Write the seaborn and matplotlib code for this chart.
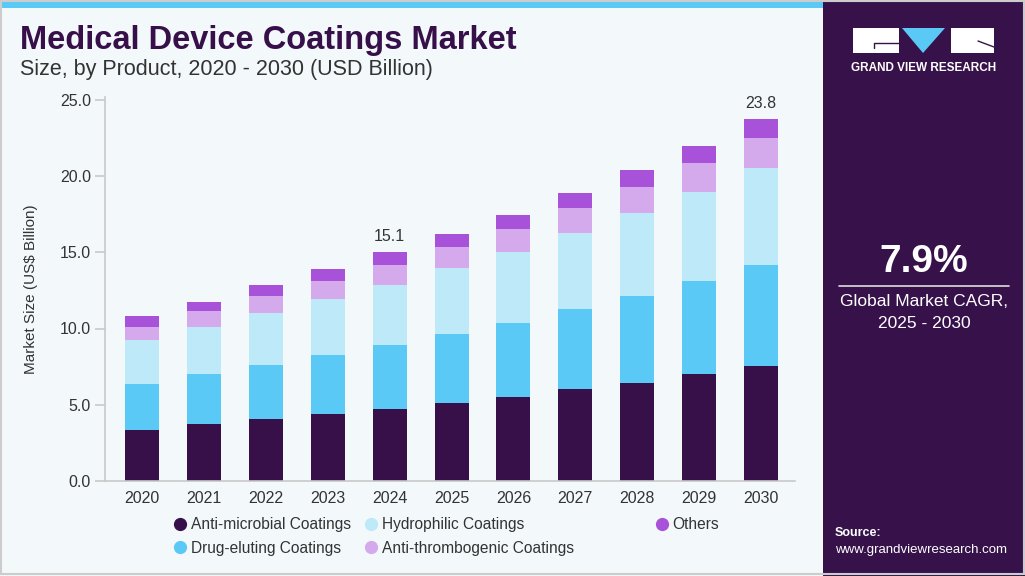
import numpy as np
import pandas as pd
import matplotlib
matplotlib.use("Agg")
import matplotlib.pyplot as plt
import seaborn as sns
from matplotlib.patches import Rectangle, Polygon
from matplotlib.lines import Line2D

# ---------------- data ----------------
years = ["2020", "2021", "2022", "2023", "2024", "2025", "2026", "2027", "2028", "2029", "2030"]
anti_microbial = [3.35, 3.74, 4.05, 4.40, 4.70, 5.14, 5.54, 6.02, 6.43, 7.00, 7.55]
drug_eluting = [3.04, 3.26, 3.54, 3.89, 4.20, 4.51, 4.85, 5.25, 5.71, 6.12, 6.62]
hydrophilic = [2.84, 3.09, 3.41, 3.63, 3.96, 4.29, 4.64, 4.98, 5.43, 5.84, 6.37]
anti_thrombogenic = [0.90, 1.05, 1.14, 1.18, 1.31, 1.39, 1.49, 1.62, 1.70, 1.87, 1.97]
others = [0.66, 0.63, 0.68, 0.77, 0.82, 0.84, 0.91, 1.01, 1.10, 1.11, 1.20]
series_names = ["Anti-microbial Coatings", "Drug-eluting Coatings", "Hydrophilic Coatings",
                "Anti-thrombogenic Coatings", "Others"]
series_colors = ["#37104A", "#5BC9F5", "#BDE9F8", "#D4AAEC", "#A752D8"]
value_labels = {"2024": "15.1", "2030": "23.8"}
y_ticks = [0, 5, 10, 15, 20, 25]

W, H = 1025, 576
BG = "#F3F8FB"
PANEL = "#37124A"
DARK = "#37104A"

sns.set_theme(style="white")
plt.rcParams["font.family"] = ["Liberation Sans", "DejaVu Sans"]

fig = plt.figure(figsize=(W / 100, H / 100), dpi=100)
fig.patch.set_facecolor(BG)

def fx(x):
    return x / W

def fy(y):
    return 1 - y / H

ax = fig.add_axes([fx(105), fy(481), fx(795) - fx(105), fy(96.7) - fy(481)])
ax.set_facecolor(BG)

df = pd.DataFrame({"year": years})
stack = [anti_microbial, drug_eluting, hydrophilic, anti_thrombogenic, others]
cum = np.cumsum(np.array(stack), axis=0)
# draw cumulative totals from the top layer down so each lower layer covers the one above
for i in range(len(stack) - 1, -1, -1):
    df["v"] = cum[i]
    sns.barplot(data=df, x="year", y="v", order=years, color=series_colors[i],
                saturation=1, width=0.55, ax=ax, errorbar=None, linewidth=0)

ax.set_xlim(-0.6, 10.55)
ax.set_ylim(0, 25.2)
ax.set_yticks(y_ticks)
ax.set_yticklabels([f"{t:.1f}" for t in y_ticks])
ax.set_xlabel("")
ax.set_ylabel("Market Size (US$ Billion)", fontsize=11, color="#333333", labelpad=16)
for s in ["top", "right"]:
    ax.spines[s].set_visible(False)
ax.spines["left"].set_color("#C8C8C8")
ax.spines["bottom"].set_color("#C8C8C8")
ax.spines["left"].set_linewidth(1.2)
ax.spines["bottom"].set_linewidth(1.2)
ax.tick_params(axis="y", which="both", left=True, length=7, width=1.2, color="#C8C8C8",
               labelsize=11.5, labelcolor="#333333", pad=3)
ax.tick_params(axis="x", bottom=False, labelsize=11.5, labelcolor="#333333", pad=1)

totals = cum[-1]
for i, yr in enumerate(years):
    if yr in value_labels:
        ax.annotate(value_labels[yr], (i, totals[i]), xytext=(0, 6), textcoords="offset points",
                    ha="center", va="bottom", fontsize=11.5, color="#333333")

# legend: three separate columns to match the uneven spacing
handles = [Line2D([0], [0], marker="o", linestyle="", markersize=8.5,
                  markerfacecolor=c, markeredgecolor=c) for c in series_colors]
col_groups = [([0, 1], 172), ([2, 3], 363), ([4], 654)]
for idxs, xpix in col_groups:
    fig.legend([handles[k] for k in idxs], [series_names[k] for k in idxs], ncol=1,
               loc="upper left", bbox_to_anchor=(fx(xpix), fy(517)), frameon=False,
               fontsize=11.2, handletextpad=0.2, labelspacing=0.55, handlelength=1.0,
               borderpad=0.0, borderaxespad=0.0, labelcolor="#333333")

# titles
fig.text(fx(20), fy(41), "Medical Device Coatings Market", fontsize=23.5, fontweight="bold",
         color=DARK, va="center", ha="left")
fig.text(fx(20), fy(69), "Size, by Product, 2020 - 2030 (USD Billion)", fontsize=15.5,
         color="#333333", va="center", ha="left")

# top strip
fig.patches.append(Rectangle((fx(2), fy(8)), fx(823) - fx(2), fy(0) - fy(8),
                             transform=fig.transFigure, facecolor="#5BC9F5", edgecolor="none"))
# right panel
fig.patches.append(Rectangle((fx(823), 0), 1 - fx(823), 1, transform=fig.transFigure,
                             facecolor=PANEL, edgecolor="none"))
# outer border
fig.patches.append(Rectangle((fx(1), fy(574)), fx(1023), fy(1) - fy(574), transform=fig.transFigure,
                             facecolor="none", edgecolor="#CCCCCC", linewidth=1.5))

# logo
fig.patches.append(Rectangle((fx(853), fy(53)), fx(899) - fx(853), fy(28) - fy(53),
                             transform=fig.transFigure, facecolor="white", edgecolor="none"))
fig.lines.append(Line2D([fx(874), fx(874), fx(899)], [fy(48), fy(43), fy(43)],
                        transform=fig.transFigure, color=PANEL, linewidth=1))
fig.patches.append(Polygon([(fx(902), fy(28)), (fx(945), fy(28)), (fx(923), fy(53))],
                           closed=True, transform=fig.transFigure, facecolor="#5BC9F5",
                           edgecolor="none"))
fig.patches.append(Rectangle((fx(951), fy(53)), fx(994) - fx(951), fy(28) - fy(53),
                             transform=fig.transFigure, facecolor="white", edgecolor="none"))
fig.lines.append(Line2D([fx(978), fx(994)], [fy(41), fy(47)],
                        transform=fig.transFigure, color=PANEL, linewidth=1))
fig.text(fx(923.5), fy(68), "GRAND VIEW RESEARCH", fontsize=8.5, fontweight="bold",
         color="white", ha="center", va="center")

# CAGR
fig.text(fx(924), fy(262), "7.9%", fontsize=28, fontweight="bold", color="white",
         ha="center", va="center")
fig.lines.append(Line2D([fx(839), fx(1009)], [fy(286), fy(286)], transform=fig.transFigure,
                        color="#DDDDDD", linewidth=1.2))
fig.text(fx(924), fy(302), "Global Market CAGR,", fontsize=12.5, color="white",
         ha="center", va="center")
fig.text(fx(924), fy(324), "2025 - 2030", fontsize=12.5, color="white",
         ha="center", va="center")

fig.text(fx(835), fy(533), "Source:", fontsize=9, fontweight="bold", color="white",
         ha="left", va="center")
fig.text(fx(835), fy(550), "www.grandviewresearch.com", fontsize=9.5, color="white",
         ha="left", va="center")

fig.savefig("out.png", dpi=100, facecolor=fig.get_facecolor())
